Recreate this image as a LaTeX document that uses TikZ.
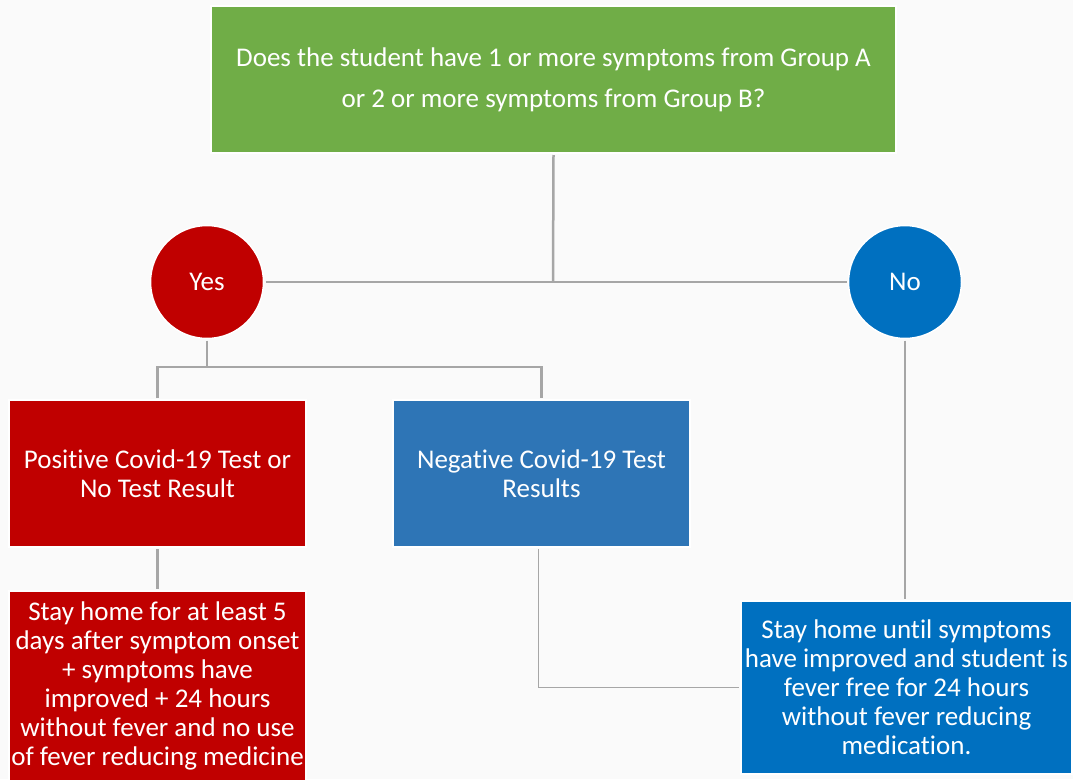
\documentclass[tikz,border=0pt]{standalone}
\usepackage{fontspec}
\setmainfont[Ligatures={NoCommon}]{Carlito}
\definecolor{bggray}{HTML}{FAFAFA}
\definecolor{qgreen}{HTML}{70AD47}
\definecolor{yesred}{HTML}{C00000}
\definecolor{nodeblue}{HTML}{0070C0}
\definecolor{negblue}{HTML}{2E75B6}
\definecolor{linegray}{HTML}{A6A6A6}
\tikzset{
  box/.style={rectangle, draw=white, line width=1.5pt, text=white, align=center,
    inner sep=0pt, outer sep=2pt, font=\fontsize{27}{29}\selectfont},
  answer/.style={circle, draw=white, line width=1.5pt, text=white,
    minimum size=113pt, inner sep=0pt, outer sep=2pt, font=\fontsize{27}{29}\selectfont},
  link/.style={draw=linegray, line width=2.5pt},
  thinlink/.style={draw=linegray, line width=1.5pt}
}
\begin{document}
\begin{tikzpicture}[x=1pt,y=-1pt]
	\fill[bggray] (0,0) rectangle (1073,779);
	\useasboundingbox (0,0) rectangle (1073,779);

	\node[box, fill=qgreen, minimum width=685pt, minimum height=147pt, font=\fontsize{27}{41}\selectfont] (q) at (553.5,79.5) {Does the student have 1 or more symptoms from Group A\\or 2 or more symptoms from Group B?};
	\node[answer, fill=yesred] (yes) at (207,282) {Yes};
	\node[answer, fill=nodeblue] (no) at (905,282) {No};
	\node[box, fill=yesred, minimum width=297pt, minimum height=147pt] (pos) at (157.5,473.5) {Positive Covid-19 Test or\\No Test Result};
	\node[box, fill=negblue, minimum width=297pt, minimum height=147pt] (neg) at (541.5,473.5) {Negative Covid-19 Test\\Results};
	\node[box, fill=yesred, minimum width=297pt, minimum height=190pt] (home) at (157.5,686) {Stay home for at least 5\\days after symptom onset\\+ symptoms have\\improved + 24 hours\\without fever and no use\\of fever reducing medicine};
	\node[box, fill=nodeblue, minimum width=331pt, minimum height=173pt] (fever) at (906.5,687.5) {Stay home until symptoms\\have improved and student is\\fever free for 24 hours\\without fever reducing\\medication.};

	\coordinate (split) at (553,282);
	\coordinate (fork) at (207,367);

	\draw[link] (q.south) -- (split);
	\draw[link] (yes.east) -- (no.west);
	\draw[link] (yes.south) -- (fork);
	\draw[link] (pos.north) |- (fork) -| (neg.north);
	\draw[link] (pos.south) -- (home.north);
	\draw[link] (no.south) -- (no.south |- fever.north);
	\draw[thinlink] ([xshift=-3pt]neg.south) |- (fever.west);
\end{tikzpicture}
\end{document}
